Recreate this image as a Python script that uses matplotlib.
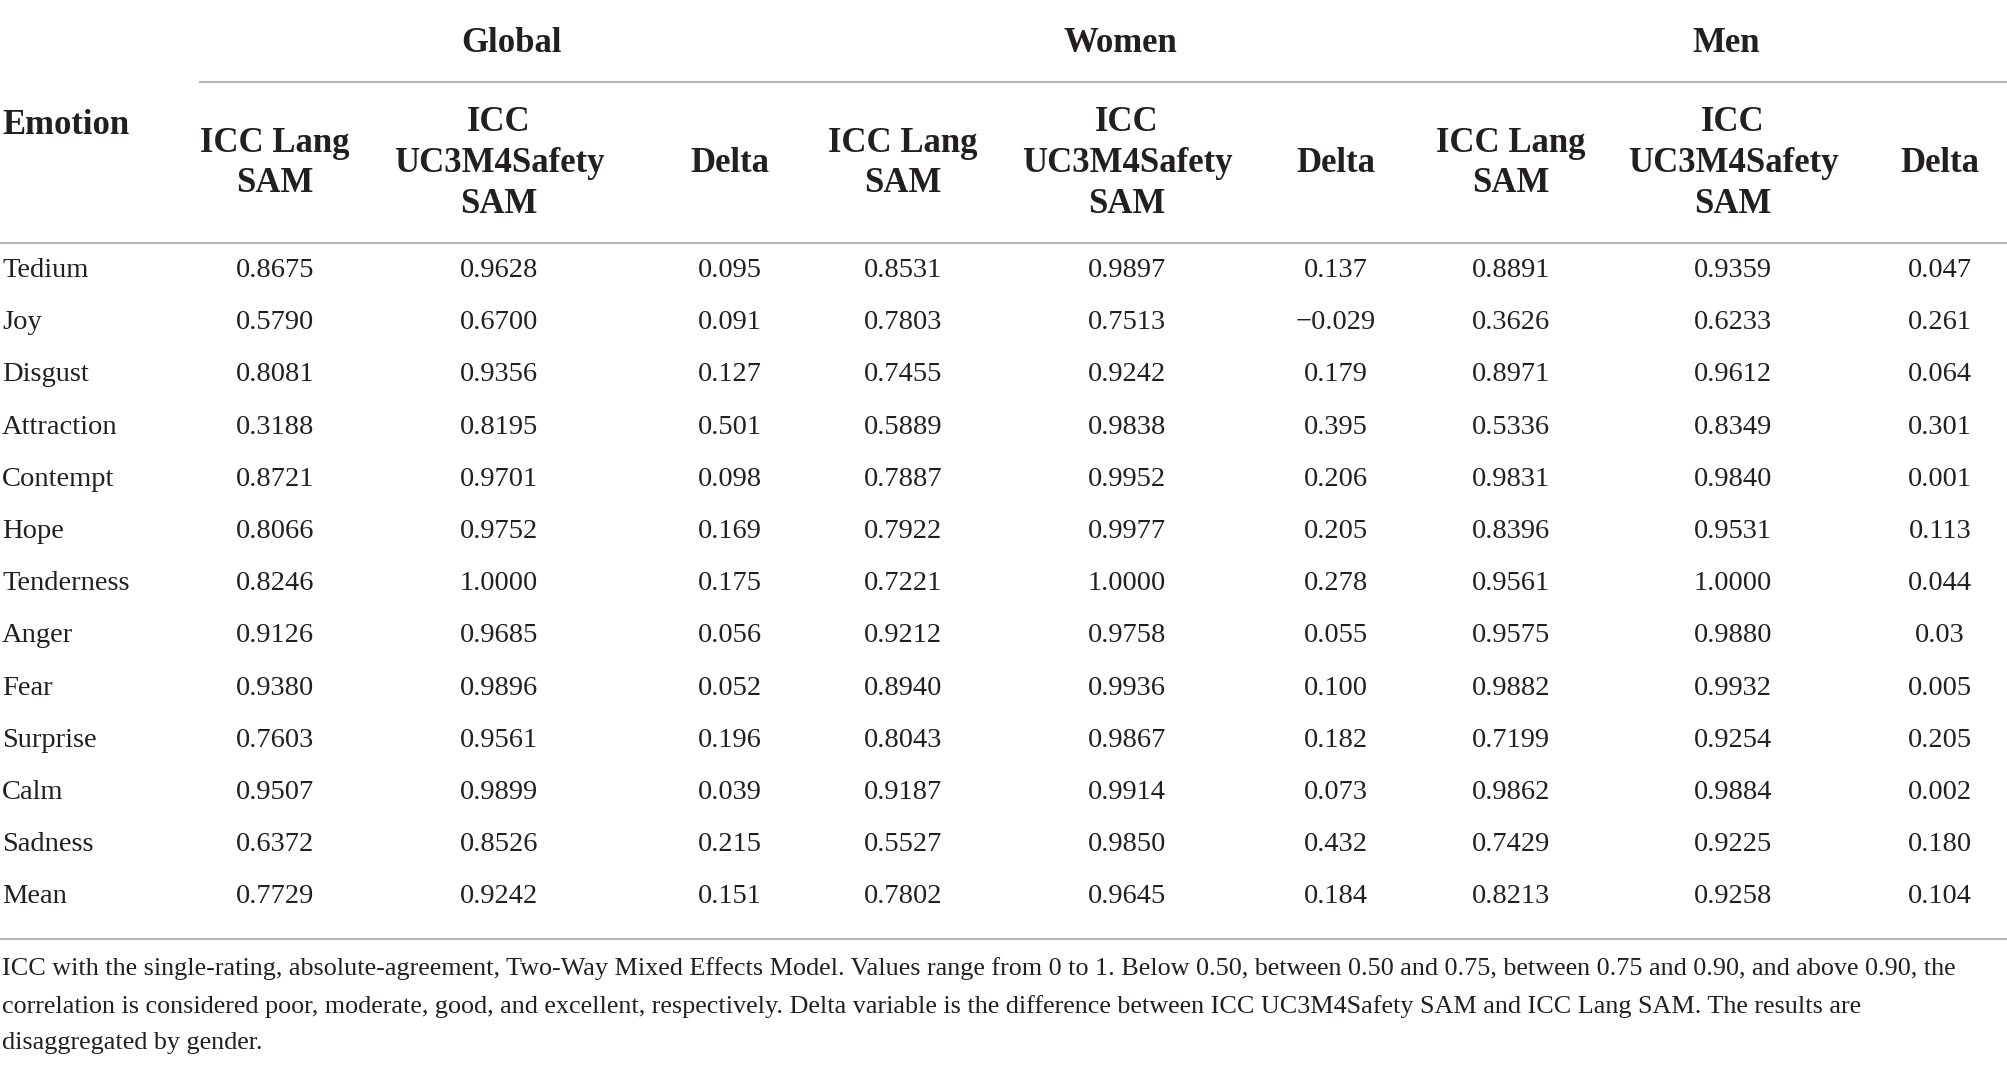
import matplotlib
matplotlib.use('Agg')
import matplotlib.pyplot as plt

# 表格数据
emotions = ['Tedium', 'Joy', 'Disgust', 'Attraction', 'Contempt', 'Hope', 'Tenderness',
            'Anger', 'Fear', 'Surprise', 'Calm', 'Sadness', 'Mean']

global_lang = ['0.8675', '0.5790', '0.8081', '0.3188', '0.8721', '0.8066', '0.8246',
               '0.9126', '0.9380', '0.7603', '0.9507', '0.6372', '0.7729']
global_uc3m = ['0.9628', '0.6700', '0.9356', '0.8195', '0.9701', '0.9752', '1.0000',
               '0.9685', '0.9896', '0.9561', '0.9899', '0.8526', '0.9242']
global_delta = ['0.095', '0.091', '0.127', '0.501', '0.098', '0.169', '0.175',
                '0.056', '0.052', '0.196', '0.039', '0.215', '0.151']

women_lang = ['0.8531', '0.7803', '0.7455', '0.5889', '0.7887', '0.7922', '0.7221',
              '0.9212', '0.8940', '0.8043', '0.9187', '0.5527', '0.7802']
women_uc3m = ['0.9897', '0.7513', '0.9242', '0.9838', '0.9952', '0.9977', '1.0000',
              '0.9758', '0.9936', '0.9867', '0.9914', '0.9850', '0.9645']
women_delta = ['0.137', '\u22120.029', '0.179', '0.395', '0.206', '0.205', '0.278',
               '0.055', '0.100', '0.182', '0.073', '0.432', '0.184']

men_lang = ['0.8891', '0.3626', '0.8971', '0.5336', '0.9831', '0.8396', '0.9561',
            '0.9575', '0.9882', '0.7199', '0.9862', '0.7429', '0.8213']
men_uc3m = ['0.9359', '0.6233', '0.9612', '0.8349', '0.9840', '0.9531', '1.0000',
            '0.9880', '0.9932', '0.9254', '0.9884', '0.9225', '0.9258']
men_delta = ['0.047', '0.261', '0.064', '0.301', '0.001', '0.113', '0.044',
             '0.03', '0.005', '0.205', '0.002', '0.180', '0.104']

groups = ['Global', 'Women', 'Men']
sub_headers = ['ICC Lang\nSAM', 'ICC\nUC3M4Safety\nSAM', 'Delta']

note = ('ICC with the single-rating, absolute-agreement, Two-Way Mixed Effects Model. Values range from 0 to 1. '
        'Below 0.50, between 0.50 and 0.75, between 0.75 and 0.90, and above 0.90, the\n'
        'correlation is considered poor, moderate, good, and excellent, respectively. Delta variable is the '
        'difference between ICC UC3M4Safety SAM and ICC Lang SAM. The results are\n'
        'disaggregated by gender.')

columns = [global_lang, global_uc3m, global_delta,
           women_lang, women_uc3m, women_delta,
           men_lang, men_uc3m, men_delta]

# 版式（像素坐标）
W, H = 2008, 1066
col_x = [275, 499, 730, 903, 1127, 1336, 1511, 1733, 1940]
group_x = [512, 1120, 1726]
row_y0, row_dy = 277, 52.2
text_color = '#231f20'
line_color = '#b4b4b4'

plt.rcParams['font.family'] = ['Liberation Serif', 'DejaVu Serif']

fig = plt.figure(figsize=(W / 100, H / 100), dpi=100)
ax = fig.add_axes([0, 0, 1, 1])
ax.set_xlim(0, W)
ax.set_ylim(H, 0)
ax.axis('off')

# 表头
for name, x in zip(groups, group_x):
    ax.text(x, 43.5, name, ha='center', va='center', fontsize=25, fontweight='bold', color=text_color)
ax.text(2, 125, 'Emotion', ha='left', va='center', fontsize=25, fontweight='bold', color=text_color)
for i, x in enumerate(col_x):
    ax.text(x, 163.5, sub_headers[i % 3], ha='center', va='center', multialignment='center',
            fontsize=25, fontweight='bold', color=text_color, linespacing=1.31)

# 横线
ax.plot([199, W], [82, 82], color=line_color, lw=1.5, solid_capstyle='butt')
ax.plot([0, W], [243, 243], color=line_color, lw=1.5, solid_capstyle='butt')
ax.plot([0, W], [939, 939], color=line_color, lw=1.5, solid_capstyle='butt')

# 数据行
for r, emo in enumerate(emotions):
    y = row_y0 + r * row_dy
    ax.text(2, y, emo, ha='left', va='baseline', fontsize=20.5, color=text_color)
    for c, x in enumerate(col_x):
        ax.text(x, y, columns[c][r], ha='center', va='baseline', fontsize=20.5, color=text_color)

# 表注
ax.text(2, 957, note, ha='left', va='top', fontsize=18.8, color=text_color, linespacing=1.84)

fig.savefig('out.png', dpi=100)
